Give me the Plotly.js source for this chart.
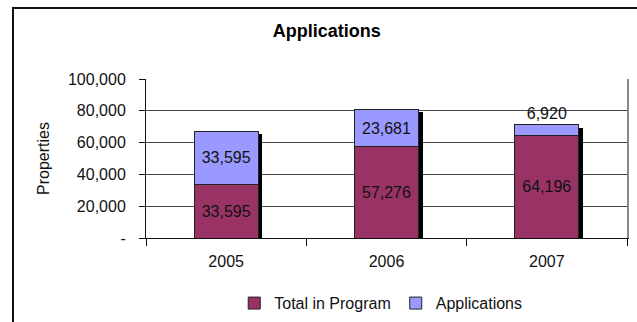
<!DOCTYPE html>
<html>
<head>
<meta charset="utf-8">
<script src="https://cdn.plot.ly/plotly-3.0.1.min.js"></script>
<style>
  html, body { margin: 0; padding: 0; background: #fff; }
  #chart { width: 637px; height: 322px; }
  #frame { position: absolute; left: 12px; top: 7px; width: 640px; height: 330px;
           border-left: 2px solid #111; border-top: 2px solid #111; pointer-events: none; }
</style>
</head>
<body>
<div id="chart"></div>
<div id="frame"></div>
<script>
// ---- data ----
const years = ["2005", "2006", "2007"];
const totalInProgram = [33595, 57276, 64196];
const applications = [33595, 23681, 6920];
const yTickVals = [0, 20000, 40000, 60000, 80000, 100000];
const yTickText = ["-", "20,000", "40,000", "60,000", "80,000", "100,000"];
const chartTitle = "Applications";
const yTitle = "Properties";

const fmt = v => v.toLocaleString("en-US");
const totals = years.map((_, i) => totalInProgram[i] + applications[i]);

const FONT = "Arial, 'Liberation Sans', sans-serif";
const outline = { color: "#222", width: 1 };

const traces = [
  // drop shadow, drawn on the shifted base axes
  {
    type: "bar", x: years, y: totals, xaxis: "x", yaxis: "y",
    marker: { color: "#000", line: { width: 0 } },
    showlegend: false, hoverinfo: "skip"
  },
  {
    type: "bar", name: "Total in Program", x: years, y: totalInProgram,
    xaxis: "x2", yaxis: "y2",
    marker: { color: "#993366", line: outline },
    text: totalInProgram.map(fmt), textposition: "inside",
    insidetextanchor: "middle", constraintext: "none",
    textfont: { family: FONT, size: 16, color: "#111" },
    hoverinfo: "skip"
  },
  {
    type: "bar", name: "Applications", x: years, y: applications,
    xaxis: "x2", yaxis: "y2",
    marker: { color: "#9999FF", line: outline },
    text: applications.map(fmt),
    textposition: ["inside", "inside", "outside"],
    insidetextanchor: "middle", constraintext: "none", cliponaxis: false,
    textfont: { family: FONT, size: 16, color: "#111" },
    hoverinfo: "skip"
  }
];

const layout = {
  width: 637, height: 322,
  margin: { l: 146, r: 10, t: 79, b: 84, autoexpand: false },
  paper_bgcolor: "#fff", plot_bgcolor: "#fff",
  font: { family: FONT, size: 16, color: "#111" },
  barmode: "stack", bargap: 0.6,
  showlegend: true,
  title: { text: "<b>" + chartTitle + "</b>", x: 0.513, xanchor: "center",
           y: 0.905, yanchor: "middle", font: { family: FONT, size: 18, color: "#000" } },
  xaxis: { type: "category", visible: false, range: [-0.525, 2.475], fixedrange: true },
  yaxis: { range: [1900, 101900], showticklabels: false, showgrid: false, zeroline: false,
           ticks: "", side: "right", showline: true, linecolor: "#888", linewidth: 1.5, fixedrange: true },
  xaxis2: {
    type: "category", overlaying: "x", anchor: "y2", range: [-0.5, 2.5],
    showline: true, linecolor: "#111", linewidth: 1,
    ticks: "outside", tickson: "boundaries", ticklen: 7, tickcolor: "#111",
    showgrid: false, ticklabelstandoff: 9,
    tickfont: { family: FONT, size: 16, color: "#111" }, fixedrange: true
  },
  yaxis2: {
    overlaying: "y", anchor: "x2", range: [0, 100000],
    tickvals: yTickVals, ticktext: yTickText,
    showline: true, linecolor: "#111", linewidth: 1,
    ticks: "outside", ticklen: 6, tickcolor: "#111", ticklabelstandoff: 10,
    showgrid: true, gridcolor: "#444", gridwidth: 1, zeroline: false,
    tickfont: { family: FONT, size: 16, color: "#111" },
    title: { text: yTitle, font: { family: FONT, size: 16, color: "#111" }, standoff: 14 },
    fixedrange: true
  },
  legend: {
    orientation: "h", x: 0.488, xanchor: "center", y: -0.41, yanchor: "middle",
    traceorder: "normal", font: { family: FONT, size: 16, color: "#111" },
    itemwidth: 30, bgcolor: "rgba(0,0,0,0)"
  }
};

Plotly.newPlot("chart", traces, layout, { staticPlot: true, displayModeBar: false });
</script>
</body>
</html>
